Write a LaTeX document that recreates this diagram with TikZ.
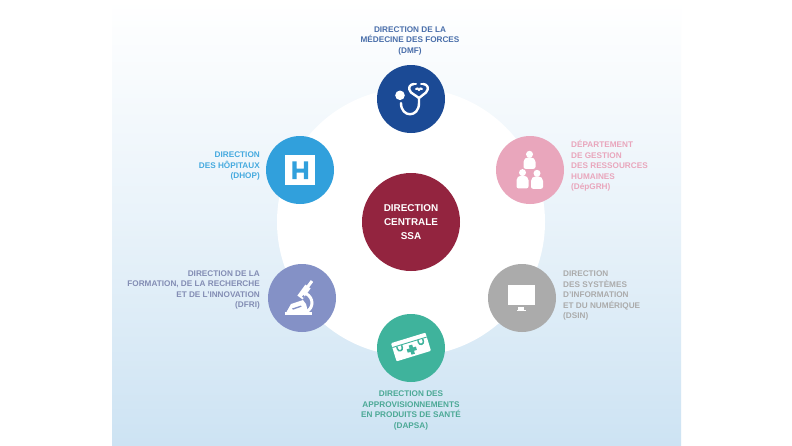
\documentclass[tikz,border=0pt]{standalone}
\usepackage{fontspec}
\setmainfont{Liberation Sans}
\definecolor{navy}{HTML}{1B4A95}
\definecolor{hblue}{HTML}{31A0DC}
\definecolor{rose}{HTML}{E9A6BC}
\definecolor{greyc}{HTML}{ABABAB}
\definecolor{teal2}{HTML}{3FB39C}
\definecolor{viol}{HTML}{8491C6}
\definecolor{wine}{HTML}{93243F}
\definecolor{bgbot}{HTML}{CDE3F3}
\tikzset{
 disc/.style={circle,minimum size=68pt,inner sep=0pt,fill=#1},
 lab/.style={font=\bfseries\fontsize{8.2}{10.5}\selectfont,inner sep=0pt,text=#1},
 icl/.style={draw=white,line width=2.4pt,fill=none,line cap=round,line join=round}
}
\newcommand{\personicon}[3]{%
 \fill[white] (#1,#2) circle (3.5);
 \fill[white,rounded corners=2pt] (#1-6,#2+#3) -- (#1-6,#2+5.5) -- (#1-3,#2+3) -- (#1+3,#2+3) -- (#1+6,#2+5.5) -- (#1+6,#2+#3) -- cycle;
}
\begin{document}
\begin{tikzpicture}[x=1pt,y=-1pt]
\useasboundingbox (0,0) rectangle (792,445);
\fill[white] (0,0) rectangle (792,445);
\shade[top color=white,bottom color=bgbot,middle color=white!55!bgbot] (112,0) rectangle (681,445);
\fill[white] (411,222) circle (134);
\node[disc=wine,minimum size=98pt,align=center,text=white,font=\bfseries\fontsize{9.9}{14}\selectfont] (centre) at (411,222) {DIRECTION\\CENTRALE\\SSA};
\node[disc=navy] (dmf) at (411,99) {};
\node[disc=hblue] (dhop) at (300,170) {};
\node[disc=rose] (drh) at (530,170) {};
\node[disc=viol] (dfri) at (302,298) {};
\node[disc=greyc] (dsin) at (522,298) {};
\node[disc=teal2] (dapsa) at (411,348) {};
% labels
\node[lab=navy!80!white,align=center,anchor=south] (tdmf) at (410,55) {DIRECTION DE LA\\MÉDECINE DES FORCES\\(DMF)};
\node[lab=hblue!90!white,align=right,anchor=east] (tdhop) at (260,166) {DIRECTION\\DES HÔPITAUX\\(DHOP)};
\node[lab=rose,align=left,anchor=west] (tdrh) at (571,166) {DÉPARTEMENT\\DE GESTION\\DES RESSOURCES\\HUMAINES\\(DépGRH)};
\node[lab=viol!75!gray,align=right,anchor=east] (tdfri) at (260,290) {DIRECTION DE LA\\FORMATION, DE LA RECHERCHE\\ET DE L’INNOVATION\\(DFRI)};
\node[lab=greyc,align=left,anchor=west] (tdsin) at (563,295.5) {DIRECTION\\DES SYSTÈMES\\D’INFORMATION\\ET DU NUMÉRIQUE\\(DSIN)};
\node[lab=teal2!80!gray,align=center,anchor=north] (tdapsa) at (411,391) {DIRECTION DES\\APPROVISIONNEMENTS\\EN PRODUITS DE SANTÉ\\(DAPSA)};
% stethoscope
\fill[white] (400,95.3) circle (4.8);
\draw[icl] (401,103) .. controls (401,118) and (419,118) .. (419,103) -- (419,98);
\draw[icl] (419,98) -- (411,92.5) .. controls (407,88) and (410,84) .. (414,84);
\draw[icl] (419,98) -- (426,92.5) .. controls (430,88) and (427,84) .. (423,84);
\draw[icl,line width=2pt] (414,84) -- (416,84) (423,84) -- (421,84);
\draw[icl,line width=2pt] (416,89) .. controls (417,88) and (418,88) .. (419,90) .. controls (420,88) and (421,88) .. (422,89);
% H
\fill[white] (284.7,154.7) rectangle (314.5,184.7);
\fill[hblue] (292.3,161.3) rectangle (296.5,179) (303.8,161.3) rectangle (308,179) (292.3,168.7) rectangle (308,172.7);
% people
\personicon{529.5}{154.3}{14.5}
\personicon{522.5}{172.6}{15.8}
\personicon{537}{173.3}{15.5}
% microscope
\fill[white] (285.3,312) rectangle (312,314.7);
\fill[white] (286.5,312) -- (291,304) -- (303,300) -- (306,304) -- (308,312) -- cycle;
\draw[white,line width=6.5pt] (300,297.5) -- (308,286.5);
\draw[white,line width=3pt] (307.5,287) -- (312,281);
\draw[white,line width=3pt] (306,293.5) .. controls (314,298) and (314,308) .. (306,312);
\fill[viol] (303.5,296.5) circle (1.3);
\fill[viol] (292,308.5) -- (301,305.5) -- (301.5,306.7) -- (293,309.7) -- cycle;
% monitor
\fill[white] (507.7,285.3) rectangle (535.3,305.3);
\fill[white] (518.3,306.5) rectangle (524.3,310);
\fill[white] (516.5,310) rectangle (526,311.2);
% first aid case
\begin{scope}[rotate around={17:(411,347)}]
\fill[white,rounded corners=1pt] (393,337.5) rectangle (429,356.5);
\fill[teal2] (393,341.6) rectangle (429,342.5);
\draw[teal2,line width=1.5pt] (397.5,342.5) -- (397.5,345) arc (180:0:2.5) -- (402.5,342.5);
\draw[teal2,line width=1.5pt] (419.5,342.5) -- (419.5,345) arc (180:0:2.5) -- (424.5,342.5);
\fill[teal2] (409.2,345) rectangle (412.8,354.5) (406.2,348) rectangle (415.8,351.5);
\end{scope}
\end{tikzpicture}
\end{document}
